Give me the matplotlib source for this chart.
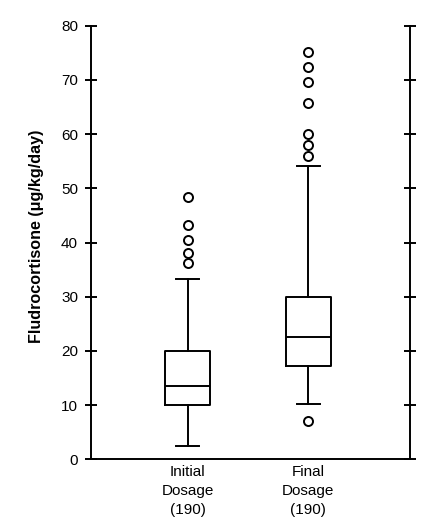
import matplotlib
matplotlib.use("Agg")
import matplotlib.pyplot as plt

plt.rcParams['font.family'] = ['Liberation Sans', 'DejaVu Sans']

categories = ["Initial\nDosage\n(190)", "Final\nDosage\n(190)"]
whisker_low = [2.4, 10.2]
q1 = [10.0, 17.3]
median = [13.5, 22.5]
q3 = [20.0, 30.0]
whisker_high = [33.2, 54.2]
outliers = [
    [36.2, 38.1, 40.4, 43.3, 48.4],
    [7.1, 55.9, 58.0, 60.0, 65.7, 69.6, 72.3, 75.2],
]
yticks = [0, 10, 20, 30, 40, 50, 60, 70, 80]

stats = []
for i, lab in enumerate(categories):
    stats.append(dict(label=lab, whislo=whisker_low[i], q1=q1[i], med=median[i],
                      q3=q3[i], whishi=whisker_high[i], fliers=outliers[i]))

fig = plt.figure(figsize=(4.31, 5.26), dpi=100)
ax = fig.add_axes([0.210, 0.1268, 0.741, 0.8243])

lw = 1.4
ax.bxp(stats, positions=[1, 2], widths=0.37, showfliers=True,
       boxprops=dict(color='black', linewidth=lw),
       medianprops=dict(color='black', linewidth=lw),
       whiskerprops=dict(color='black', linewidth=lw),
       capprops=dict(color='black', linewidth=lw),
       capwidths=0.19,
       flierprops=dict(marker='o', markerfacecolor='none', markeredgecolor='black',
                       markersize=6.5, markeredgewidth=1.4))

ax.set_xlim(0.196, 2.842)
ax.set_ylim(0, 80)
ax.set_yticks(yticks)
ax.set_yticklabels([str(v) for v in yticks], fontsize=11)
ax.set_xticks([1, 2])
ax.set_xticklabels(categories, fontsize=11, linespacing=1.45)
ax.tick_params(axis='x', length=0, pad=4)
ax.tick_params(axis='y', direction='inout', length=8, width=lw, right=True, labelright=False, pad=5)

ax.spines['top'].set_visible(False)
for s in ['left', 'right', 'bottom']:
    ax.spines[s].set_linewidth(lw)

ax.set_ylabel("Fludrocortisone (\u03bcg/kg/day)", fontsize=11.6, fontweight='bold')
ax.yaxis.label.set_va('center')
ax.yaxis.set_label_coords(-0.169, 0.514)

fig.savefig("out.png", dpi=100)
